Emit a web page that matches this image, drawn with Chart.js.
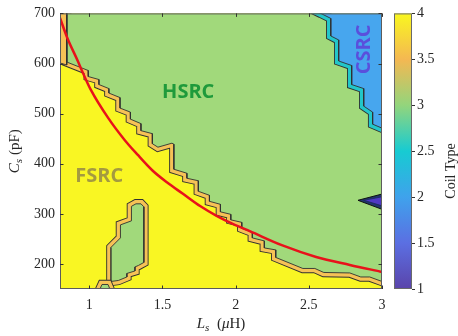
<!DOCTYPE html>
<html><head><meta charset="utf-8">
<script src="https://cdn.jsdelivr.net/npm/chart.js@4.4.0/dist/chart.umd.min.js"></script>
<style>html,body{margin:0;padding:0;background:#fff;overflow:hidden}</style>
</head><body>
<canvas id="c" width="458" height="336"></canvas>
<script>
// ---- tick labels ----
const xTicks = [1, 1.5, 2, 2.5, 3];
const xTickLabels = ['1', '1.5', '2', '2.5', '3'];
const yTicks = [200, 300, 400, 500, 600, 700];
const yTickLabels = ['200', '300', '400', '500', '600', '700'];
const cbTicks = [1, 1.5, 2, 2.5, 3, 3.5, 4];
const cbTickLabels = ['1', '1.5', '2', '2.5', '3', '3.5', '4'];
const cbColors = ['#5a44aa', '#5b6fe2', '#3fa2ec', '#17cbd2', '#93d57c', '#f4b852', '#f9f71f'];

// ---- region boundaries [Ls (uH), Cs (pF)] ----
const fsrcDomain = [[0.7, 140], [3.1, 140], [3.1, 720], [0.7, 720]];
const hsrcBoundary = [
  [0.846, 720], [0.846, 603], [0.993, 586], [0.993, 574], [1.066, 568], [1.066, 558],
  [1.134, 550], [1.134, 541], [1.210, 532], [1.210, 511], [1.281, 503], [1.281, 489],
  [1.353, 480], [1.353, 466], [1.431, 460], [1.431, 440], [1.469, 433], [1.565, 441],
  [1.578, 439], [1.578, 389], [1.667, 381], [1.667, 371], [1.745, 366], [1.745, 345],
  [1.821, 337], [1.821, 325], [1.896, 319], [1.896, 304], [1.967, 299], [1.967, 288],
  [2.042, 283], [2.042, 271], [2.114, 263], [2.114, 252], [2.196, 246], [2.196, 232],
  [2.274, 228], [2.274, 213], [2.459, 191], [2.541, 191], [2.602, 183], [2.780, 182],
  [2.855, 174], [2.916, 174], [3.0, 165], [3.1, 160], [3.1, 720]
];
const hsrcLeftBand = [[0.79, 720], [0.846, 720], [0.846, 597], [0.79, 602]];
const hsrcIsland = [
  [1.148, 165], [1.148, 233], [1.213, 252], [1.213, 278], [1.288, 286], [1.288, 315],
  [1.319, 320], [1.353, 320], [1.373, 314], [1.373, 203], [1.336, 197], [1.312, 194],
  [1.312, 186], [1.257, 181], [1.257, 174], [1.199, 167]
];
const hsrcIslandSmall = [[1.066, 140], [1.073, 150], [1.087, 159], [1.128, 159], [1.141, 150], [1.148, 140]];
const csrcBoundary = [
  [2.51, 720], [2.51, 710], [2.582, 700], [2.650, 690], [2.650, 655], [2.704, 647], [2.704, 605],
  [2.793, 596], [2.793, 558], [2.875, 550], [2.875, 515], [2.936, 503], [2.936, 479],
  [3.0, 471], [3.1, 460], [3.1, 720]
];
const type1Outer = [[2.836, 327], [3.0, 339.5], [3.1, 342], [3.1, 305], [3.0, 309]];
const type1Inner = [[2.875, 327], [3.0, 334], [3.1, 336], [3.1, 312], [3.0, 316]];

// ---- red resonance curve ----
const curveL = [0.8, 0.85, 0.92, 0.96, 1.01, 1.13, 1.24, 1.33, 1.43, 1.53, 1.64, 1.76, 1.87, 1.98, 2.10, 2.32, 2.55, 2.78, 3.0];
const curveC = [691, 651, 606, 579, 548, 491, 448, 418, 387, 363, 340, 315, 296, 280, 265, 237, 214, 198, 184];

// ---- region labels ----
const regionNames = ['HSRC', 'FSRC', 'CSRC'];
const regionL = [1.676, 1.068, 2.870];
const regionC = [544, 376, 628];
const regionColors = ['#1f9a3b', '#a49a40', '#5a4fdc'];
const regionRot = [0, 0, -90];

// ---- colours of the filled levels ----
const colYellow = '#f9f623', colGreen = '#a1d97b', colOrange = '#f6c256', colBlue = '#47a6ee', colCyan = '#22c6c9';
const edge = '#303030';

const pts = arr => arr.map(([L, C]) => ({x: L, y: C}));
function layered(poly, fill, band, order) {
  const closed = poly.concat([poly[0], poly[1]]);
  const base = {pointRadius: 0, clip: 0, tension: 0, borderJoinStyle: 'miter'};
  return [
    {...base, data: pts(closed), borderColor: edge, borderWidth: 9.4, fill: false, order: order + 2},
    {...base, data: pts(closed), borderColor: band, borderWidth: 7.6, fill: false, order: order + 1},
    {...base, data: pts(closed), borderColor: edge, borderWidth: 0.9, backgroundColor: fill, fill: 'shape', order: order}
  ];
}

const datasets = [
  {data: pts(fsrcDomain), backgroundColor: colYellow, borderWidth: 0, fill: 'shape', pointRadius: 0, clip: 0, order: 200},
  ...layered(hsrcBoundary, colGreen, colOrange, 100),
  {data: pts(hsrcLeftBand), backgroundColor: colOrange, borderColor: edge, borderWidth: 0.9, fill: 'shape', pointRadius: 0, clip: 0, order: 100.5},
  ...layered(hsrcIsland, colGreen, colOrange, 90),
  ...layered(hsrcIslandSmall, colGreen, colOrange, 80),
  ...layered(csrcBoundary, colBlue, colCyan, 60),
  {data: pts(type1Outer.concat([type1Outer[0]])), backgroundColor: '#1f386c', borderColor: '#111', borderWidth: 1, fill: 'shape', pointRadius: 0, clip: 0, order: 20},
  {data: pts(type1Inner.concat([type1Inner[0]])), backgroundColor: '#4f3ac4', borderColor: '#1d2a5a', borderWidth: 0.8, fill: 'shape', pointRadius: 0, clip: 0, order: 19},
  {data: curveL.map((L, i) => ({x: L, y: curveC[i]})), borderColor: '#e8121b', borderWidth: 2.5, fill: false,
   pointRadius: 0, cubicInterpolationMode: 'monotone', clip: 0, order: 1}
];

const serif = '"Times New Roman", "Liberation Serif", serif';

function drawRich(ctx, parts, x, y) {
  let w = 0;
  for (const p of parts) { ctx.font = p.f; w += ctx.measureText(p.t).width; }
  let cx = x - w / 2;
  for (const p of parts) {
    ctx.font = p.f;
    ctx.fillText(p.t, cx, y + (p.dy || 0));
    cx += ctx.measureText(p.t).width;
  }
}

const annot = {
  id: 'annot',
  afterDatasetsDraw(chart) {
    const {ctx, chartArea: a, scales: {x, y}} = chart;
    ctx.save();
    ctx.textAlign = 'center'; ctx.textBaseline = 'middle';
    regionNames.forEach((t, i) => {
      ctx.save();
      ctx.translate(x.getPixelForValue(regionL[i]), y.getPixelForValue(regionC[i]));
      ctx.rotate(regionRot[i] * Math.PI / 180);
      ctx.font = 'bold 20px "Open Sans", "Noto Sans", sans-serif';
      ctx.fillStyle = regionColors[i];
      ctx.fillText(t, 0, 1);
      ctx.restore();
    });
    ctx.strokeStyle = '#5c5c5c'; ctx.lineWidth = 1;
    ctx.strokeRect(a.left + 0.5, a.top + 0.5, a.right - a.left - 1, a.bottom - a.top - 1);
    ctx.strokeStyle = '#333';
    ctx.beginPath();
    for (const v of xTicks) {
      const px = Math.round(x.getPixelForValue(v)) + 0.5;
      ctx.moveTo(px, a.bottom); ctx.lineTo(px, a.bottom - 3.5);
      ctx.moveTo(px, a.top); ctx.lineTo(px, a.top + 3.5);
    }
    for (const v of yTicks) {
      const py = Math.round(y.getPixelForValue(v)) + 0.5;
      ctx.moveTo(a.left, py); ctx.lineTo(a.left + 3.5, py);
      ctx.moveTo(a.right, py); ctx.lineTo(a.right - 3.5, py);
    }
    ctx.stroke();
    ctx.restore();
  },
  afterDraw(chart) {
    const {ctx, chartArea: a} = chart;
    ctx.save();
    ctx.fillStyle = '#262626';
    ctx.textAlign = 'left'; ctx.textBaseline = 'alphabetic';
    drawRich(ctx, [
      {t: 'L', f: 'italic 15px ' + serif},
      {t: 's', f: 'italic 11px ' + serif, dy: 3},
      {t: '  (', f: '15px ' + serif},
      {t: 'μ', f: 'italic 15px ' + serif},
      {t: 'H)', f: '15px ' + serif}
    ], (a.left + a.right) / 2, 328);
    ctx.save();
    ctx.translate(19, (a.top + a.bottom) / 2);
    ctx.rotate(-Math.PI / 2);
    drawRich(ctx, [
      {t: 'C', f: 'italic 15px ' + serif},
      {t: 's', f: 'italic 11px ' + serif, dy: 3},
      {t: ' (pF)', f: '15px ' + serif}
    ], 0, 0);
    ctx.restore();
    // colorbar
    const bx = a.right + 12, bw = 18, top = a.top, bot = a.bottom;
    const vmin = cbTicks[0], vmax = cbTicks[cbTicks.length - 1];
    const vy = v => bot - (v - vmin) / (vmax - vmin) * (bot - top);
    const g = ctx.createLinearGradient(0, bot, 0, top);
    cbTicks.forEach((v, i) => g.addColorStop((v - vmin) / (vmax - vmin), cbColors[i]));
    ctx.fillStyle = g;
    ctx.fillRect(bx, top, bw, bot - top);
    ctx.strokeStyle = '#6a6a6a'; ctx.lineWidth = 1;
    ctx.strokeRect(bx + 0.5, top + 0.5, bw - 1, bot - top - 1);
    ctx.strokeStyle = '#333';
    ctx.beginPath();
    cbTicks.forEach(v => { const py = Math.round(vy(v)) + 0.5; ctx.moveTo(bx + bw, py); ctx.lineTo(bx + bw + 3, py); });
    ctx.stroke();
    ctx.fillStyle = '#262626';
    ctx.font = '14px ' + serif; ctx.textBaseline = 'middle'; ctx.textAlign = 'left';
    cbTicks.forEach((v, i) => ctx.fillText(cbTickLabels[i], bx + bw + 5, vy(v)));
    ctx.save();
    ctx.translate(455, 171);
    ctx.rotate(-Math.PI / 2);
    ctx.textAlign = 'center'; ctx.textBaseline = 'alphabetic';
    ctx.font = '14px ' + serif;
    ctx.fillText('Coil Type', 0, 0);
    ctx.restore();
    ctx.restore();
  }
};

new Chart(document.getElementById('c'), {
  type: 'line',
  data: {datasets},
  options: {
    responsive: false, animation: false, devicePixelRatio: 1,
    layout: {padding: {left: 0, right: 76, top: 10, bottom: 0}},
    plugins: {legend: {display: false}, tooltip: {enabled: false}},
    events: [],
    scales: {
      x: {
        type: 'linear', min: 0.8, max: 3,
        afterFit: s => { s.height = 47; },
        afterBuildTicks: s => { s.ticks = xTicks.map(v => ({value: v})); },
        grid: {display: false, drawTicks: false}, border: {display: false},
        ticks: {font: {family: serif, size: 14}, color: '#262626', padding: 8, maxRotation: 0,
                callback: (v, i) => xTickLabels[i]}
      },
      y: {
        type: 'linear', min: 150, max: 700,
        afterFit: s => { s.width = 60; },
        afterBuildTicks: s => { s.ticks = yTicks.map(v => ({value: v})); },
        grid: {display: false, drawTicks: false}, border: {display: false},
        ticks: {font: {family: serif, size: 14}, color: '#262626', padding: 5,
                callback: (v, i) => yTickLabels[i]}
      }
    }
  },
  plugins: [annot]
});
</script>
</body></html>
